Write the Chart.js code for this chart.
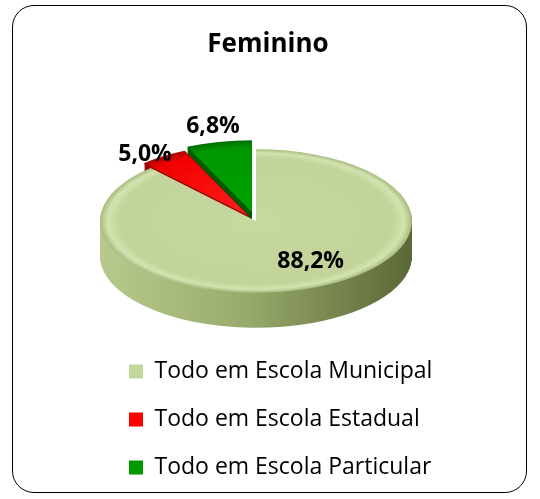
<!DOCTYPE html>
<html>
<head>
<meta charset="utf-8">
<script src="https://cdn.jsdelivr.net/npm/chart.js@4.4.1/dist/chart.umd.min.js"></script>
<style>
  body { margin: 0; background: #fff; }
  #wrap { position: relative; width: 540px; height: 499px; }
  #frame {
    position: absolute; left: 12px; top: 5px; width: 515px; height: 488px;
    box-sizing: border-box; border: 1.5px solid #000; border-radius: 22px;
    pointer-events: none;
  }
</style>
</head>
<body>
<div id="wrap">
  <canvas id="pie-plot" width="540" height="499"></canvas>
  <div id="frame"></div>
</div>
<script>
var categories = ["Todo em Escola Municipal", "Todo em Escola Estadual", "Todo em Escola Particular"];
var shares = [88.2, 5.0, 6.8];
var sliceColors = ["#c3d69b", "#ff0000", "#009900"];
var edgeColors = ["#8a9a5f", "#8c0000", "#007000"];

// look of the tilted pie
var tilt = 0.46;
var depth = 35;
var pieCenter = { x: 256, y: 221 };
var explode = [0, 12, 20];
var edgeWidths = [0, 0.8, 0];
var labelPlace = [
  { r: 0.72, dx: 14, dy: -8 },
  { r: 1.15, dx: -12, dy: 2 },
  { r: 1.3, dx: 0, dy: -3 }
];

function pctText(v) {
  return v.toFixed(1).replace(".", ",") + "%";
}

const pie3d = {
  id: "pie3d",
  beforeDatasetDraw(chart) {
    const ctx = chart.ctx;
    const arcs = chart.getDatasetMeta(0).data;
    const Arc = arcs[0].constructor;
    const cx = arcs[0].x, cy = arcs[0].y, R = arcs[0].outerRadius;

    const mainSide = ctx.createLinearGradient(cx - R, 0, cx + R, 0);
    mainSide.addColorStop(0, "#b8c98d");
    mainSide.addColorStop(0.45, "#9aac6d");
    mainSide.addColorStop(1, "#5a6737");
    const sideFill = [mainSide, "#9c0000", "#005a00"];

    const mainTop = ctx.createRadialGradient(cx, cy, 0, cx, cy, R);
    mainTop.addColorStop(0, "#c7d89f");
    mainTop.addColorStop(0.88, "#c2d499");
    mainTop.addColorStop(0.95, "#d3e3b1");
    mainTop.addColorStop(1, "#a8ba7e");
    const redTop = ctx.createRadialGradient(cx, cy, 0, cx, cy, R);
    redTop.addColorStop(0, "#ff2020");
    redTop.addColorStop(0.9, "#f20000");
    redTop.addColorStop(1, "#b00000");
    const greenTop = ctx.createRadialGradient(cx, cy, 0, cx, cy, R);
    greenTop.addColorStop(0, "#00a300");
    greenTop.addColorStop(0.9, "#009600");
    greenTop.addColorStop(1, "#006a00");
    const topFill = [mainTop, redTop, greenTop];

    function piece(arc, fill, stroke, bw) {
      return new Arc({
        x: cx, y: cy,
        startAngle: arc.startAngle, endAngle: arc.endAngle,
        circumference: arc.circumference,
        innerRadius: 0, outerRadius: R,
        options: Object.assign({}, arc.options, {
          offset: 0, spacing: 0,
          backgroundColor: fill, borderColor: stroke, borderWidth: bw
        })
      });
    }

    ctx.save();
    ctx.translate(pieCenter.x, pieCenter.y);
    ctx.scale(1, tilt);
    ctx.translate(-cx, -cy);

    // side walls, deepest layer first
    for (let d = depth; d >= 1; d--) {
      arcs.forEach((arc, i) => {
        const mid = (arc.startAngle + arc.endAngle) / 2;
        ctx.save();
        ctx.translate(Math.cos(mid) * explode[i], Math.sin(mid) * explode[i] + d / tilt);
        piece(arc, sideFill[i], sideFill[i], 0).draw(ctx);
        ctx.restore();
      });
    }

    // top faces
    arcs.forEach((arc, i) => {
      const mid = (arc.startAngle + arc.endAngle) / 2;
      ctx.save();
      ctx.translate(Math.cos(mid) * explode[i], Math.sin(mid) * explode[i]);
      piece(arc, topFill[i], edgeColors[i], edgeWidths[i]).draw(ctx);
      ctx.restore();
    });

    ctx.restore();
    return false;
  },
  afterDatasetsDraw(chart) {
    const ctx = chart.ctx;
    const arcs = chart.getDatasetMeta(0).data;
    ctx.save();
    ctx.font = "bold 23px 'Open Sans'";
    ctx.fillStyle = "#000";
    ctx.textAlign = "center";
    ctx.textBaseline = "middle";
    arcs.forEach((arc, i) => {
      const mid = (arc.startAngle + arc.endAngle) / 2;
      const rr = arc.outerRadius * labelPlace[i].r;
      const x = pieCenter.x + Math.cos(mid) * rr + labelPlace[i].dx;
      const y = pieCenter.y + Math.sin(mid) * rr * tilt + labelPlace[i].dy;
      ctx.fillText(pctText(shares[i]), x, y);
    });
    ctx.restore();
  }
};

Chart.defaults.color = "#000";
Chart.defaults.font.family = "'Open Sans', sans-serif";

new Chart("pie-plot", {
  type: "pie",
  data: {
    labels: categories,
    datasets: [{
      data: shares,
      backgroundColor: sliceColors,
      borderColor: edgeColors,
      borderWidth: 0,
      radius: 156,
      clip: false
    }]
  },
  options: {
    responsive: false,
    animation: false,
    layout: {
      padding: { left: 104, right: 108, top: 0, bottom: 10 }
    },
    plugins: {
      title: {
        display: true,
        text: "Feminino",
        font: { size: 26, weight: "bold" },
        padding: { top: 29, bottom: 0 }
      },
      legend: {
        display: true,
        position: "bottom",
        align: "start",
        labels: {
          boxWidth: 14,
          boxHeight: 14,
          padding: 25,
          font: { size: 23 }
        }
      },
      tooltip: { enabled: false }
    }
  },
  plugins: [pie3d]
});
</script>
</body>
</html>
